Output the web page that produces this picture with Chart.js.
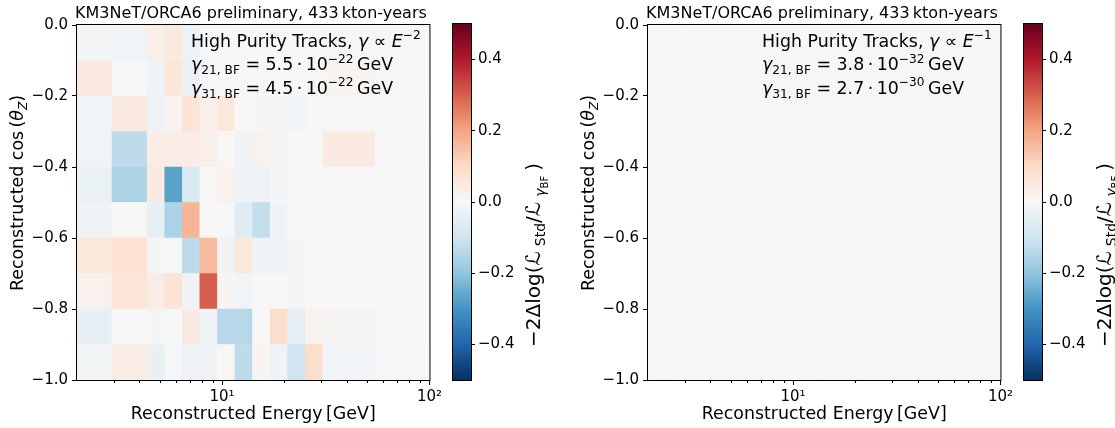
<!DOCTYPE html>
<html>
<head>
<meta charset="utf-8">
<title>ORCA6 decoherence likelihood maps</title>
<script src="https://cdn.jsdelivr.net/npm/chart.js@4.4.1/dist/chart.umd.min.js"></script>
<style>
    html, body { margin: 0; padding: 0; background: #fff; }
    #wrap { position: relative; width: 1115px; height: 428px; overflow: hidden; }
    .box { position: absolute; top: 0; height: 428px; }
</style>
</head>
<body>
<div id="wrap">
    <div class="box" style="left:0;width:445px"><canvas id="heatA"></canvas></div>
    <div class="box" style="left:445px;width:115px"><canvas id="cbarA"></canvas></div>
    <div class="box" style="left:560px;width:456px"><canvas id="heatB"></canvas></div>
    <div class="box" style="left:1016px;width:99px"><canvas id="cbarB"></canvas></div>
</div>
<script>
// bin edges (energy in GeV, log spaced; cos of zenith)
const energyEdges = [2, 2.95, 4.36, 5.30, 6.44, 7.82, 9.51, 11.55, 14.04, 17.06, 20.7, 25.2, 30.6, 54.9, 100];
const cosEdges = [-1.0, -0.9, -0.8, -0.7, -0.6, -0.5, -0.4, -0.3, -0.2, -0.1, 0.0];

const cosTicks = [-1.0, -0.8, -0.6, -0.4, -0.2, 0.0];
const energyMajorTicks = [10, 100];
const energyTickLabels = ['10\u00b9', '10\u00b2'];
const energyMinorTicks = [3, 4, 5, 6, 7, 8, 9, 20, 30, 40, 50, 60, 70, 80, 90];
const cbarTicks = [-0.4, -0.2, 0.0, 0.2, 0.4];
const cbarMin = -0.5;
const cbarMax = 0.5;

// -2 dlog L per cell, rows listed from the top (cos 0 .. -0.1) down to (-0.9 .. -1.0)
const valuesE2 = [
    [-0.010, -0.015, 0.030, 0.050, -0.030, 0.000, 0.000, -0.005, 0.000, 0.000, 0.000, 0.000, 0.005, 0.005],
    [0.050, -0.005, -0.020, 0.060, -0.035, 0.000, 0.000, 0.000, -0.005, 0.000, 0.000, 0.000, 0.010, 0.005],
    [-0.015, 0.050, -0.030, 0.015, 0.070, 0.025, 0.055, 0.000, -0.010, -0.010, -0.015, 0.000, 0.000, 0.000],
    [-0.015, -0.130, 0.035, 0.035, 0.035, 0.030, 0.005, -0.020, 0.020, -0.010, 0.000, 0.000, 0.045, -0.003],
    [-0.035, -0.160, 0.050, -0.270, -0.080, 0.000, 0.020, -0.020, -0.030, -0.010, 0.000, 0.000, 0.000, 0.000],
    [-0.020, 0.005, -0.045, -0.160, 0.170, 0.005, -0.005, -0.060, -0.120, -0.025, 0.000, -0.005, 0.005, 0.000],
    [0.055, 0.075, -0.010, -0.005, -0.130, 0.160, -0.020, 0.055, -0.020, -0.025, -0.010, 0.000, 0.000, 0.000],
    [0.020, 0.065, 0.040, 0.070, -0.020, 0.300, 0.010, -0.015, 0.000, 0.000, -0.010, 0.000, 0.000, 0.000],
    [-0.045, 0.000, -0.008, 0.000, 0.045, -0.025, -0.140, -0.140, 0.000, 0.090, -0.050, 0.020, 0.008, 0.000],
    [-0.012, 0.035, -0.040, -0.005, -0.020, -0.020, 0.005, -0.130, 0.010, -0.025, -0.100, 0.090, -0.015, -0.003]
];

const valuesE1 = [
    [-0.003, -0.002, -0.003, -0.002, -0.003, -0.003, -0.002, -0.003, -0.003, -0.002, -0.003, -0.003, -0.002, -0.003],
    [-0.002, -0.004, -0.003, -0.003, -0.002, -0.003, -0.003, -0.002, -0.003, -0.003, -0.002, -0.003, -0.003, -0.002],
    [-0.003, -0.003, -0.002, -0.004, -0.003, -0.002, -0.003, -0.003, -0.004, -0.003, -0.003, -0.002, -0.003, -0.003],
    [-0.003, -0.002, -0.003, -0.003, -0.004, -0.003, -0.002, -0.003, -0.003, -0.002, -0.003, -0.003, -0.004, -0.003],
    [-0.004, -0.003, -0.003, -0.002, -0.003, -0.003, -0.004, -0.003, -0.002, -0.003, -0.003, -0.003, -0.003, -0.002],
    [-0.003, -0.003, -0.004, -0.003, -0.002, -0.003, -0.003, -0.004, -0.003, -0.003, -0.002, -0.003, -0.003, -0.003],
    [-0.002, -0.003, -0.003, -0.003, -0.003, -0.004, -0.003, -0.002, -0.003, -0.004, -0.003, -0.003, -0.002, -0.003],
    [-0.003, -0.004, -0.003, -0.002, -0.003, -0.003, -0.003, -0.003, -0.004, -0.003, -0.002, -0.003, -0.003, -0.003],
    [-0.003, -0.003, -0.002, -0.003, -0.004, -0.003, -0.002, -0.003, -0.003, -0.003, -0.004, -0.003, -0.003, -0.002],
    [-0.002, -0.003, -0.003, -0.004, -0.003, -0.002, -0.003, -0.003, -0.002, -0.003, -0.003, -0.004, -0.003, -0.003]
];

const headerText = 'KM3NeT/ORCA6 preliminary, 433\u2009kton-years';
const energyTitle = 'Reconstructed Energy\u2009[GeV]';
const bestFitE2 = { index: '\u22122', g21: '5.5', e21: '\u221222', g31: '4.5', e31: '\u221222' };
const bestFitE1 = { index: '\u22121', g21: '3.8', e21: '\u221232', g31: '2.7', e31: '\u221230' };

// RdBu_r
const rdbu = ['#053061', '#2166ac', '#4393c3', '#92c5de', '#d1e5f0', '#f7f7f7',
              '#fddbc7', '#f4a582', '#d6604d', '#b2182b', '#67001f'];
const FAMILY = "'DejaVu Sans', 'Liberation Sans', sans-serif";
const BIG = 17.4;
const SMALL = 12.2;
const CB = 20;

function hexRgb(h) {
    return [1, 3, 5].map(i => parseInt(h.substr(i, 2), 16));
}

function cmap(v) {
    const t = Math.min(1, Math.max(0, (v - cbarMin) / (cbarMax - cbarMin))) * (rdbu.length - 1);
    const i = Math.min(rdbu.length - 2, Math.floor(t));
    const f = t - i;
    const a = hexRgb(rdbu[i]), b = hexRgb(rdbu[i + 1]);
    const c = a.map((x, k) => Math.round(x + (b[k] - x) * f));
    return 'rgb(' + c.join(',') + ')';
}

function cellPoints(rows) {
    const pts = [];
    const n = cosEdges.length - 1;
    rows.forEach((row, r) => {
        const lo = cosEdges[n - 1 - r];
        const hi = cosEdges[n - r];
        row.forEach((v, c) => {
            pts.push({ x: [energyEdges[c], energyEdges[c + 1]], y: (lo + hi) / 2, v: v });
        });
    });
    return pts;
}

const fmtTick = v => Math.abs(v) < 1e-9 ? '0.0' : (v < 0 ? '\u2212' : '') + Math.abs(v).toFixed(1);

// simple rich text: runs of {t, s, dy, it}
const run = (t, s, dy, it) => ({ t: t, s: s || BIG, dy: dy || 0, it: !!it });

function runFont(r) {
    return (r.it ? 'italic ' : '') + r.s + 'px ' + FAMILY;
}

function runsWidth(ctx, runs) {
    let w = 0;
    runs.forEach(r => { ctx.font = runFont(r); w += ctx.measureText(r.t).width; });
    return w;
}

function drawRuns(ctx, runs, x, y, rot, align) {
    ctx.save();
    ctx.translate(x, y);
    if (rot) ctx.rotate(rot);
    let cx = align === 'center' ? -runsWidth(ctx, runs) / 2 : 0;
    ctx.fillStyle = '#000';
    ctx.textAlign = 'left';
    ctx.textBaseline = 'alphabetic';
    runs.forEach(r => {
        ctx.font = runFont(r);
        ctx.fillText(r.t, cx, r.dy);
        cx += ctx.measureText(r.t).width;
    });
    ctx.restore();
}

function noteLines(bf) {
    return [
        [run('High Purity Tracks, '), run('\u03b3', BIG, 0, true), run(' \u221d '), run('E', BIG, 0, true), run(bf.index, SMALL, -7.5)],
        [run('\u03b3', BIG, 0, true), run('21, BF', SMALL, 4), run(' = ' + bf.g21 + '\u2009\u00b7\u200910'), run(bf.e21, SMALL, -7.5), run('\u2009GeV')],
        [run('\u03b3', BIG, 0, true), run('31, BF', SMALL, 4), run(' = ' + bf.g31 + '\u2009\u00b7\u200910'), run(bf.e31, SMALL, -7.5), run('\u2009GeV')]
    ];
}

const yTitleRuns = [run('Reconstructed cos\u2009('), run('\u03b8', BIG, 0, true), run('Z', SMALL, 4, true), run(')')];
const cbarTitleRuns = [run('\u22122\u0394log(', CB), run('\u2112\u2005', CB), run('Std', CB * 0.7, 4.5), run('/', CB),
                       run('\u2112\u2005', CB), run('\u03b3', CB * 0.7, 4.5, true), run('BF', CB * 0.5, 7.5), run('\u2005)', CB)];

const heatDecor = {
    id: 'heatDecor',
    afterDraw(chart, args, opts) {
        const { ctx, chartArea: a, scales } = chart;
        ctx.save();
        ctx.strokeStyle = '#000';
        ctx.lineWidth = 1;
        ctx.strokeRect(a.left - 0.5, a.top - 0.5, a.width + 1, a.height + 1);
        ctx.beginPath();
        energyMinorTicks.forEach(v => {
            const px = Math.round(scales.x.getPixelForValue(v)) + 0.5;
            ctx.moveTo(px, a.bottom);
            ctx.lineTo(px, a.bottom + 3);
        });
        ctx.stroke();
        ctx.restore();

        drawRuns(ctx, [run(headerText, 16)], a.left - 2, 17.5);
        opts.note.forEach((line, i) => drawRuns(ctx, line, a.left + 114, 46.5 + i * 23.5));
        drawRuns(ctx, yTitleRuns, opts.yTitleX, 193, -Math.PI / 2, 'center');
    }
};

const cbarDecor = {
    id: 'cbarDecor',
    afterDraw(chart) {
        const { ctx, chartArea: a } = chart;
        ctx.save();
        ctx.strokeStyle = '#000';
        ctx.lineWidth = 1;
        ctx.strokeRect(a.left - 0.5, a.top - 0.5, a.width + 1, a.height + 1);
        ctx.restore();
        drawRuns(ctx, cbarTitleRuns, a.right + 69, 347, -Math.PI / 2);
    }
};

function tickFont(size) {
    return { family: FAMILY, size: size };
}

function heatChart(id, rows, bf, yAxisWidth, yTitleX) {
    const pts = cellPoints(rows);
    return new Chart(document.getElementById(id), {
        type: 'bar',
        data: {
            datasets: [{
                data: pts,
                backgroundColor: pts.map(p => cmap(p.v)),
                borderWidth: 0,
                barPercentage: 1,
                categoryPercentage: 1,
                grouped: false
            }]
        },
        options: {
            indexAxis: 'y',
            responsive: true,
            maintainAspectRatio: false,
            animation: false,
            events: [],
            layout: { padding: { top: 25, right: 14, left: 0, bottom: 0 } },
            plugins: {
                legend: { display: false },
                tooltip: { enabled: false },
                heatDecor: { note: noteLines(bf), yTitleX: yTitleX }
            },
            scales: {
                x: {
                    type: 'logarithmic',
                    position: 'bottom',
                    min: 2,
                    max: 100,
                    beginAtZero: false,
                    afterBuildTicks: s => { s.ticks = energyMajorTicks.map(v => ({ value: v, major: true })); },
                    afterFit: s => { s.height = 48; },
                    ticks: {
                        autoSkip: false,
                        maxRotation: 0,
                        padding: 3,
                        color: '#000',
                        font: tickFont(15),
                        callback: v => energyTickLabels[energyMajorTicks.indexOf(v)]
                    },
                    grid: { display: true, drawOnChartArea: false, tickLength: 5, tickColor: '#000', tickWidth: 1 },
                    border: { display: false },
                    title: {
                        display: true,
                        text: energyTitle,
                        color: '#000',
                        font: tickFont(BIG),
                        padding: { top: 0, bottom: 3 }
                    }
                },
                y: {
                    type: 'linear',
                    position: 'left',
                    min: -1,
                    max: 0,
                    offset: false,
                    afterBuildTicks: s => { s.ticks = cosTicks.map(v => ({ value: v })); },
                    afterFit: s => { s.width = yAxisWidth; },
                    ticks: { padding: 4, color: '#000', font: tickFont(15), callback: fmtTick },
                    grid: { display: true, offset: false, drawOnChartArea: false, tickLength: 5, tickColor: '#000', tickWidth: 1 },
                    border: { display: false }
                }
            }
        },
        plugins: [heatDecor]
    });
}

function cbarChart(id, axisWidth) {
    return new Chart(document.getElementById(id), {
        type: 'bar',
        data: {
            labels: [''],
            datasets: [{
                data: [[cbarMin, cbarMax]],
                backgroundColor: c => {
                    const a = c.chart.chartArea;
                    if (!a) return '#f7f7f7';
                    const g = c.chart.ctx.createLinearGradient(0, a.bottom, 0, a.top);
                    rdbu.forEach((col, i) => g.addColorStop(i / (rdbu.length - 1), col));
                    return g;
                },
                borderWidth: 0,
                barPercentage: 1,
                categoryPercentage: 1
            }]
        },
        options: {
            responsive: true,
            maintainAspectRatio: false,
            animation: false,
            events: [],
            layout: { padding: { top: 24, right: 0, left: 8, bottom: 48 } },
            plugins: { legend: { display: false }, tooltip: { enabled: false } },
            scales: {
                x: { display: false },
                y: {
                    position: 'right',
                    min: cbarMin,
                    max: cbarMax,
                    afterBuildTicks: s => { s.ticks = cbarTicks.map(v => ({ value: v })); },
                    afterFit: s => { s.width = axisWidth; },
                    ticks: { padding: 3, color: '#000', font: tickFont(15), callback: fmtTick },
                    grid: { display: true, drawOnChartArea: false, tickLength: 4, tickColor: '#000', tickWidth: 1 },
                    border: { display: false }
                }
            }
        },
        plugins: [cbarDecor]
    });
}

heatChart('heatA', valuesE2, bestFitE2, 77, 23);
cbarChart('cbarA', 89);
heatChart('heatB', valuesE1, bestFitE1, 88, 34);
cbarChart('cbarB', 73);
</script>
</body>
</html>
